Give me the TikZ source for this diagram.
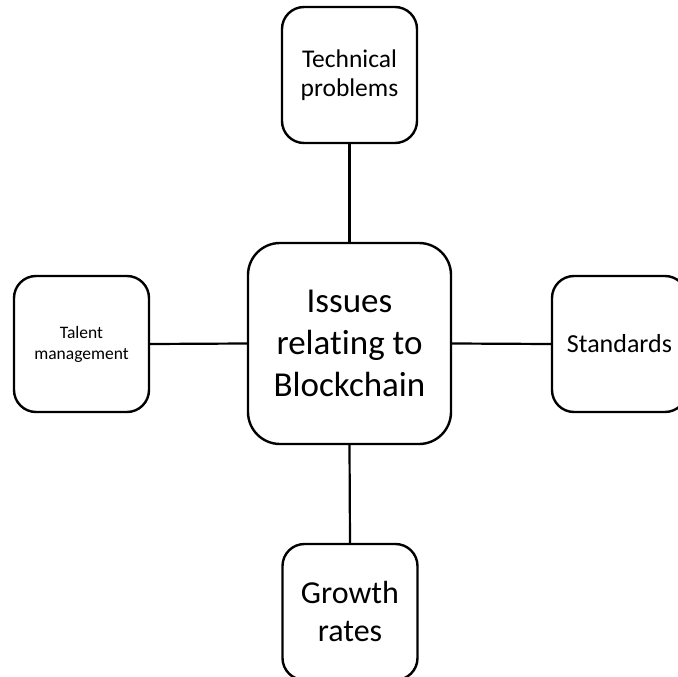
\documentclass[tikz,border=0pt]{standalone}
\usepackage{fontspec}
\setmainfont{Carlito}[Ligatures=NoCommon]
\begin{document}
\begin{tikzpicture}[x=1pt,y=-1pt,
  box/.style={draw=black,line width=2.4pt,rounded corners=22pt,fill=white,
    minimum width=135pt,minimum height=136pt,inner sep=0pt,align=center},
  hub/.style={box,rounded corners=32pt,minimum width=203pt,minimum height=201pt},
  link/.style={draw=black,line width=2.2pt}]
\clip (0,0) rectangle (678,677);
\fill[white] (0,0) rectangle (678,677);
% central topic
\node[hub,font=\fontsize{35}{42}\selectfont] (hubnode) at (349.5,343.5)
  {Issues\\relating to\\Blockchain};
% surrounding issues
\node[box,font=\fontsize{25.5}{29}\selectfont] (tech) at (349.5,75) {Technical\\problems};
\node[box,font=\fontsize{17.5}{21}\selectfont] (talent) at (81.5,344) {Talent\\management};
\node[box,font=\fontsize{26}{30}\selectfont] (std) at (619.5,344) {Standards};
\node[box,font=\fontsize{32}{38}\selectfont] (growth) at (350,612) {Growth\\rates};
% connectors
\draw[link] (tech.south) -- (hubnode.north);
\draw[link] (talent.east) -- (hubnode.west);
\draw[link] (hubnode.east) -- (std.west);
\draw[link] (hubnode.south) -- (growth.north);
\end{tikzpicture}
\end{document}
